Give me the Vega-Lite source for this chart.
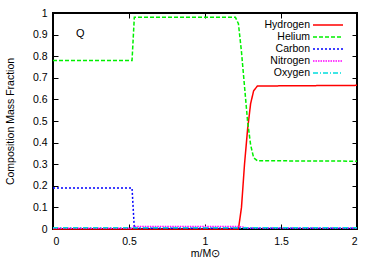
{
  "$schema": "https://vega.github.io/schema/vega-lite/v6.json",
  "width": 304,
  "height": 216,
  "autosize": {"type": "none"},
  "padding": {"left": 53, "top": 13, "right": 17, "bottom": 32},
  "background": "white",
  "config": {
    "font": "Liberation Sans",
    "view": {"stroke": "black", "strokeWidth": 2},
    "axis": {
      "domain": false,
      "grid": false,
      "tickColor": "black",
      "tickSize": -5,
      "labelFont": "Liberation Sans",
      "labelFontSize": 10.5,
      "labelColor": "#000000",
      "titleFont": "Liberation Sans",
      "titleFontSize": 10.5,
      "titleFontWeight": "normal",
      "titleColor": "#000000"
    }
  },
  "datasets": {
    "comp": [
      {"m": 0, "frac": 0, "element": "Hydrogen"},
      {"m": 1.22, "frac": 0, "element": "Hydrogen"},
      {"m": 1.24, "frac": 0.1, "element": "Hydrogen"},
      {"m": 1.26, "frac": 0.3, "element": "Hydrogen"},
      {"m": 1.28, "frac": 0.46, "element": "Hydrogen"},
      {"m": 1.3, "frac": 0.58, "element": "Hydrogen"},
      {"m": 1.32, "frac": 0.64, "element": "Hydrogen"},
      {"m": 1.345, "frac": 0.662, "element": "Hydrogen"},
      {"m": 2, "frac": 0.665, "element": "Hydrogen"},
      {"m": 0, "frac": 0.78, "element": "Helium"},
      {"m": 0.52, "frac": 0.78, "element": "Helium"},
      {"m": 0.535, "frac": 0.98, "element": "Helium"},
      {"m": 1.2, "frac": 0.98, "element": "Helium"},
      {"m": 1.22, "frac": 0.95, "element": "Helium"},
      {"m": 1.24, "frac": 0.82, "element": "Helium"},
      {"m": 1.26, "frac": 0.66, "element": "Helium"},
      {"m": 1.28, "frac": 0.5, "element": "Helium"},
      {"m": 1.3, "frac": 0.39, "element": "Helium"},
      {"m": 1.32, "frac": 0.33, "element": "Helium"},
      {"m": 1.345, "frac": 0.316, "element": "Helium"},
      {"m": 2, "frac": 0.314, "element": "Helium"},
      {"m": 0, "frac": 0.19, "element": "Carbon"},
      {"m": 0.52, "frac": 0.19, "element": "Carbon"},
      {"m": 0.535, "frac": 0.003, "element": "Carbon"},
      {"m": 2, "frac": 0.003, "element": "Carbon"},
      {"m": 0, "frac": 0.003, "element": "Nitrogen"},
      {"m": 0.52, "frac": 0.003, "element": "Nitrogen"},
      {"m": 0.535, "frac": 0.012, "element": "Nitrogen"},
      {"m": 1.22, "frac": 0.012, "element": "Nitrogen"},
      {"m": 1.28, "frac": 0.005, "element": "Nitrogen"},
      {"m": 2, "frac": 0.005, "element": "Nitrogen"},
      {"m": 0, "frac": 0.006, "element": "Oxygen"},
      {"m": 2, "frac": 0.006, "element": "Oxygen"}
    ],
    "note": [{"m": 0.18, "frac": 0.905, "label": "Q"}]
  },
  "resolve": {"axis": {"x": "independent", "y": "independent"}},
  "layer": [
    {
      "data": {"name": "comp"},
      "mark": {"type": "line", "strokeWidth": 1.5, "interpolate": "linear"},
      "encoding": {
        "x": {
          "field": "m", "type": "quantitative",
          "scale": {"domain": [0, 2], "nice": false, "zero": false},
          "axis": {"values": [0, 0.5, 1, 1.5, 2], "format": "~g", "labelPadding": 12, "title": "m/M⊙", "titlePadding": 2, "orient": "bottom"}
        },
        "y": {
          "field": "frac", "type": "quantitative",
          "scale": {"domain": [0, 1], "nice": false},
          "axis": {"values": [0, 0.1, 0.2, 0.3, 0.4, 0.5, 0.6, 0.7, 0.8, 0.9, 1], "format": "~g", "labelPadding": 11, "title": "Composition Mass Fraction", "titlePadding": 17, "orient": "left"}
        },
        "color": {
          "field": "element", "type": "nominal",
          "scale": {"domain": ["Hydrogen", "Helium", "Carbon", "Nitrogen", "Oxygen"], "range": ["#ff0000", "#00f000", "#0000ff", "#ff00ff", "#00dddd"]},
          "legend": {
            "title": null,
            "orient": "none",
            "legendX": 269,
            "legendY": 6,
            "padding": 0,
            "symbolType": "M-3,0H3",
            "symbolSize": 100,
            "symbolStrokeWidth": 1.5,
            "labelAlign": "right",
            "labelOffset": -24,
            "labelFontSize": 10.5,
            "labelFont": "Liberation Sans",
            "labelColor": "#000000",
            "rowPadding": 0,
            "labelLimit": 200
          }
        },
        "strokeDash": {
          "field": "element", "type": "nominal",
          "scale": {"domain": ["Hydrogen", "Helium", "Carbon", "Nitrogen", "Oxygen"], "range": [[1, 0], [4, 2], [2, 2], [1.5, 1], [5, 2, 1, 2]]},
          "legend": {
            "title": null,
            "orient": "none",
            "legendX": 269,
            "legendY": 6,
            "padding": 0,
            "symbolType": "M-3,0H3",
            "symbolSize": 100,
            "symbolStrokeWidth": 1.5,
            "labelAlign": "right",
            "labelOffset": -24,
            "labelFontSize": 10.5,
            "labelFont": "Liberation Sans",
            "labelColor": "#000000",
            "rowPadding": 0,
            "labelLimit": 200
          }
        },
        "order": {"field": "m", "type": "quantitative"}
      }
    },
    {
      "data": {"name": "comp"},
      "mark": {"type": "line", "opacity": 0},
      "encoding": {
        "x": {"field": "m", "type": "quantitative", "axis": {"values": [0, 0.5, 1, 1.5, 2], "labels": false, "title": null, "orient": "top"}},
        "y": {"field": "frac", "type": "quantitative", "axis": {"values": [0, 0.1, 0.2, 0.3, 0.4, 0.5, 0.6, 0.7, 0.8, 0.9, 1], "labels": false, "title": null, "orient": "right"}}
      }
    },
    {
      "data": {"name": "note"},
      "mark": {"type": "text", "fontSize": 11, "font": "Liberation Sans", "color": "#000000"},
      "encoding": {
        "x": {"field": "m", "type": "quantitative", "axis": null},
        "y": {"field": "frac", "type": "quantitative", "axis": null},
        "text": {"field": "label"}
      }
    }
  ]
}
